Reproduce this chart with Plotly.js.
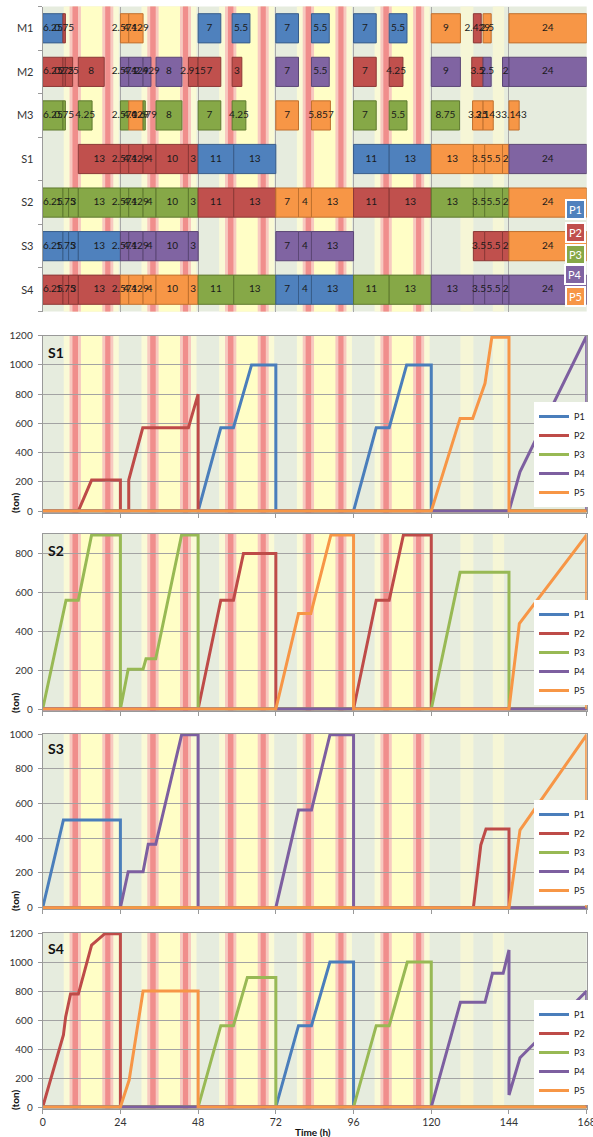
<!DOCTYPE html>
<html><head><meta charset="utf-8">
<script src="https://cdn.plot.ly/plotly-3.0.1.min.js"></script>
<style>html,body{margin:0;padding:0;background:#fff}#chart{width:593px;height:1137px}</style>
</head><body><div id="chart"></div>
<script>
// ---------------- DATA ----------------
const products = ['P1','P2','P3','P4','P5'];
const ganttRows = ['M1','M2','M3','S1','S2','S3','S4'];
const timeTicks = [0,24,48,72,96,120,144,168];

// Gantt bars: start (h), duration (h), product index (0=P1 ... 4=P5)
const gM1_start = [0,6.25,24,26.571,48,58.5,72,83,96,107,120,133,136,144];
const gM1_dur   = [6.25,0.75,2.571,4.429,7,5.5,7,5.5,7,5.5,9,2.429,2.5,24];
const gM1_prod  = [0,1,4,4,0,0,0,0,0,0,4,1,4,4];

const gM2_start = [0,6.25,7,11,24,26.571,31,35,45,48,58.5,72,83,96,107,120,132.5,136,142,144];
const gM2_dur   = [6.25,0.75,2.25,8,2.571,4.429,2.429,8,2.915,7,3,7,5.5,7,4.25,9,3.5,2.5,2,24];
const gM2_prod  = [1,1,1,1,3,3,3,3,1,1,1,3,3,1,1,3,1,3,3,3];

const gM3_start = [0,6.25,11,24,26.571,31,35,48,58.5,72,83,96,107,120,132.75,136,144];
const gM3_dur   = [6.25,0.75,4.25,2.571,4.429,0.679,8,7,4.25,7,5.857,7,5.5,8.75,3.25,3.143,3.143];
const gM3_prod  = [2,2,2,2,4,2,2,2,2,4,4,2,2,2,4,4,4];

const gS1_start = [11,24,26.571,31,35,45,48,59,96,107,120,133,136.5,142,144];
const gS1_dur   = [13,2.571,4.429,4,10,3,11,13,11,13,13,3.5,5.5,2,24];
const gS1_prod  = [1,1,1,1,1,1,0,0,0,0,4,4,4,4,3];

const gS2_start = [0,6.25,8,11,24,26.571,31,35,45,48,59,72,79,83,96,107,120,133,136.5,142,144];
const gS2_dur   = [6.25,1.75,3,13,2.571,4.429,4,10,3,11,13,7,4,13,11,13,13,3.5,5.5,2,24];
const gS2_prod  = [2,2,2,2,2,2,2,2,2,1,1,4,4,4,1,1,2,2,2,2,4];

const gS3_start = [0,6.25,8,11,24,26.571,31,35,45,72,79,83,133,136.5,142,144];
const gS3_dur   = [6.25,1.75,3,13,2.571,4.429,4,10,3,7,4,13,3.5,5.5,2,24];
const gS3_prod  = [0,0,0,0,3,3,3,3,3,3,3,3,1,1,1,4];

const gS4_start = [0,6.25,8,11,24,26.571,31,35,45,48,59,72,79,83,96,107,120,133,136.5,142,144];
const gS4_dur   = [6.25,1.75,3,13,2.571,4.429,4,10,3,11,13,7,4,13,11,13,13,3.5,5.5,2,24];
const gS4_prod  = [1,1,1,1,4,4,4,4,4,2,2,0,0,0,2,2,3,3,3,3,3];

// Inventory lines (time h, tons)
const S1_P1_t = [0,48,55,58.9,64.5,72,72,96,103,107,112.4,120,120,168];
const S1_P1_v = [0,0,570,570,1000,1000,0,0,570,570,1000,1000,0,0];
const S1_P2_t = [0,11,15.1,24,24,26.571,26.571,30.9,45,48,48,168];
const S1_P2_v = [0,0,212,212,0,0,212,570,570,800,0,0];
const S1_P3_t = [0,168];
const S1_P3_v = [0,0];
const S1_P4_t = [0,144,147.4,168,168];
const S1_P4_v = [0,0,269,1200,0];
const S1_P5_t = [0,120,128.9,132.8,136.6,138.7,144,144,168];
const S1_P5_v = [0,0,634,634,874,1190,1190,0,0];

const S2_P1_t = [0,168];
const S2_P1_v = [0,0];
const S2_P2_t = [0,48,55,58.9,62,72,72,96,103,107,111.4,120,120,168];
const S2_P2_v = [0,0,560,560,800,800,0,0,560,560,895,895,0,0];
const S2_P3_t = [0,7.2,11,15.1,24,24,26.4,31,31.9,34.9,42.9,48,48,120,128.9,144,144,168];
const S2_P3_v = [0,560,560,895,895,0,205,205,258,258,895,895,0,0,703,703,0,0];
const S2_P4_t = [0,168];
const S2_P4_v = [0,0];
const S2_P5_t = [0,72,79,82.8,89,96,96,144,147.2,168,168];
const S2_P5_v = [0,0,491,491,895,895,0,0,439,895,0];

const S3_P1_t = [0,6.4,24,24,168];
const S3_P1_v = [0,505,505,0,0];
const S3_P2_t = [0,133,135.3,136.9,144,144,168];
const S3_P2_v = [0,0,361,453,453,0,0];
const S3_P3_t = [0,168];
const S3_P3_v = [0,0];
const S3_P4_t = [0,24,26.4,31,32.6,34.9,42.9,48,48,72,79,83,88.7,96,96,168];
const S3_P4_v = [0,0,207,207,365,365,995,995,0,0,562,562,995,995,0,0];
const S3_P5_t = [0,144,147.4,168,168];
const S3_P5_v = [0,0,447,995,0];

const S4_P1_t = [0,72,79,83,88.7,96,96,168];
const S4_P1_v = [0,0,561,561,1000,1000,0,0];
const S4_P2_t = [0,6.4,7.1,8.6,11,15.1,19.2,24,24,168];
const S4_P2_v = [0,497,623,779,779,1117,1195,1195,0,0];
const S4_P3_t = [0,48,55,58.9,63.2,72,72,96,103,107,112.6,120,120,168];
const S4_P3_v = [0,0,561,561,894,894,0,0,561,561,1000,1000,0,0];
const S4_P4_t = [0,120,129,136.6,138.9,142.2,144,144,147.4,168,168];
const S4_P4_v = [0,0,722,722,922,922,1083,83,340,800,0];
const S4_P5_t = [0,24,26.7,31,48,48,168];
const S4_P5_v = [0,0,186,800,800,0,0];

// ---------------- STYLE ----------------
const FONT = 'Lato, "Liberation Sans", Arial, sans-serif';
const barFill = ['#4f81bd','#c0504d','#86a847','#8064a2','#f79646'];
const barEdge = ['#385d8a','#8c3836','#5f7a2f','#5c4776','#c0712f'];
const lineCol = ['#4a7ebb','#be4b48','#98b954','#7d5fa0','#f79646'];
const W = 593, H = 1137;
const px = v => v / W, py = v => 1 - v / H;
const XDOM = [42.7/W, 586.7/W];

// ---------------- GANTT ----------------
const gData = [
  [gM1_start,gM1_dur,gM1_prod],[gM2_start,gM2_dur,gM2_prod],[gM3_start,gM3_dur,gM3_prod],
  [gS1_start,gS1_dur,gS1_prod],[gS2_start,gS2_dur,gS2_prod],[gS3_start,gS3_dur,gS3_prod],
  [gS4_start,gS4_dur,gS4_prod]
];
const bx=[], bb=[], by=[], bc=[], bl=[], tx=[], ty=[], tt=[];
gData.forEach((r,i)=>{
  r[0].forEach((s,j)=>{
    const d=r[1][j], p=r[2][j];
    bx.push(d); bb.push(s); by.push(i); bc.push(barFill[p]); bl.push(barEdge[p]);
    tx.push(s+d/2); ty.push(i); tt.push(String(d));
  });
});
const traces = [];
traces.push({type:'bar', orientation:'h', x:bx, base:bb, y:by, width:0.67,
  marker:{color:bc, line:{color:bl, width:1}}, xaxis:'x', yaxis:'y', showlegend:false, hoverinfo:'skip'});
traces.push({type:'scatter', mode:'text', x:tx, y:ty, text:tt, textposition:'middle center',
  textfont:{family:FONT, size:10, color:'#1a1a1a'}, cliponaxis:false, xaxis:'x', yaxis:'y', showlegend:false, hoverinfo:'skip'});

// ---------------- LINES ----------------
const lineSets = [
  [[S1_P1_t,S1_P1_v],[S1_P2_t,S1_P2_v],[S1_P3_t,S1_P3_v],[S1_P4_t,S1_P4_v],[S1_P5_t,S1_P5_v]],
  [[S2_P1_t,S2_P1_v],[S2_P2_t,S2_P2_v],[S2_P3_t,S2_P3_v],[S2_P4_t,S2_P4_v],[S2_P5_t,S2_P5_v]],
  [[S3_P1_t,S3_P1_v],[S3_P2_t,S3_P2_v],[S3_P3_t,S3_P3_v],[S3_P4_t,S3_P4_v],[S3_P5_t,S3_P5_v]],
  [[S4_P1_t,S4_P1_v],[S4_P2_t,S4_P2_v],[S4_P3_t,S4_P3_v],[S4_P4_t,S4_P4_v],[S4_P5_t,S4_P5_v]]
];
const legNames = ['legend','legend2','legend3','legend4'];
lineSets.forEach((set,k)=>{
  set.forEach((pr,p)=>{
    traces.push({type:'scatter', mode:'lines', x:pr[0], y:pr[1], name:products[p],
      line:{color:lineCol[p], width:3}, xaxis:'x'+(k+2), yaxis:'y'+(k+2),
      legend:legNames[k], hoverinfo:'skip'});
  });
});

// ---------------- BACKGROUND BANDS ----------------
const bandDays = [0,24,48,72,96];
const shapes = [];
function rect(xr, yr, a, b, c){ shapes.push({type:'rect', xref:xr, yref:yr+' domain', x0:a, x1:b, y0:0, y1:1, fillcolor:c, line:{width:0}, layer:'below'}); }
['','2','3','4','5'].forEach(n=>{
  const xr='x'+n, yr='y'+n;
  bandDays.forEach(d=>{
    rect(xr,yr,d+6.5,d+23.5,'#fafad6');
    rect(xr,yr,d+11.5,d+18.8,'#fffec6');
    [[9.2,10.9],[19.3,20.9]].forEach(([a,b])=>{
      rect(xr,yr,d+a-0.9,d+b+0.9,'#f7c9c0');
      rect(xr,yr,d+a,d+b,'#f08e8c');
    });
  });
  rect(xr,yr,129,133,'#f6f6d6');
  rect(xr,yr,139,142.5,'#f6f6d6');
});

// ---------------- AXES ----------------
const layout = {
  width:W, height:H, margin:{l:0,r:0,t:0,b:0}, paper_bgcolor:'#fff', plot_bgcolor:'#e6ecde',
  font:{family:FONT, size:10, color:'#333'}, shapes:shapes, barmode:'overlay',
  xaxis:{domain:XDOM, range:[0,168], tickvals:timeTicks, showticklabels:false, ticks:'', showgrid:true,
    gridcolor:'#a8a8a8', gridwidth:1, zeroline:false, showline:false, anchor:'y', fixedrange:true},
  yaxis:{domain:[py(311.5), py(6.5)], range:[6.5,-0.5], tickvals:[0,1,2,3,4,5,6], ticktext:ganttRows,
    ticks:'', showgrid:false, zeroline:false, showline:true, linecolor:'#9a9a9a', ticklabelstandoff:6,
    tickfont:{size:11, color:'#333'}, anchor:'x', fixedrange:true,
    minor:{tickvals:[-0.5,0.5,1.5,2.5,3.5,4.5,5.5,6.5], ticks:'outside', ticklen:4, tickcolor:'#9a9a9a'}}
};
const ySpecs = [
  {dom:[py(512.5), py(335.7)], range:[-10,1200], vals:[0,200,400,600,800,1000,1200]},
  {dom:[py(710.6), py(534)],   range:[-8,900],   vals:[0,200,400,600,800]},
  {dom:[py(909.1), py(734)],   range:[-8,1000],  vals:[0,200,400,600,800,1000]},
  {dom:[py(1108.5), py(933)],  range:[-10,1200], vals:[0,200,400,600,800,1000,1200]}
];
ySpecs.forEach((s,k)=>{
  const n=k+2;
  layout['xaxis'+n] = {domain:XDOM, range:[0,168], tickvals:timeTicks, ticks:'outside', ticklen:4, tickcolor:'#999',
    showticklabels:(k===3), ticklabeloverflow:'allow', showgrid:false, zeroline:false, showline:true, mirror:true, linecolor:'#999',
    anchor:'y'+n, tickfont:{size:10.5, color:'#333'}, fixedrange:true};
  layout['yaxis'+n] = {domain:s.dom, range:s.range, tickvals:s.vals, ticks:'outside', ticklen:4, tickcolor:'#999',
    showgrid:true, gridcolor:'#a3a3a3', gridwidth:1, zeroline:false, showline:true, mirror:true, linecolor:'#999',
    anchor:'x'+n, tickfont:{size:10, color:'#333'}, ticklabelstandoff:3, fixedrange:true};
});
const legBottoms = [507, 705, 905, 1105];
legNames.forEach((ln,k)=>{
  layout[ln] = {x:px(590), xanchor:'right', y:py(legBottoms[k]), yanchor:'bottom', bgcolor:'#ffffff',
    borderwidth:0, font:{size:9, color:'#222'}, itemwidth:30, traceorder:'normal'};
});

// ---------------- ANNOTATIONS ----------------
const ann = [];
const chartTitles = ['S1','S2','S3','S4'];
const titleTops = [342, 540, 738, 938];
const tonCenters = [503, 703, 901, 1100];
chartTitles.forEach((t,k)=>{
  ann.push({xref:'paper', yref:'paper', x:px(46), y:py(titleTops[k]), xanchor:'left', yanchor:'top',
    text:'<b>'+t+'</b>', showarrow:false, font:{size:14, color:'#111'}});
  ann.push({xref:'paper', yref:'paper', x:px(15), y:py(tonCenters[k]), xanchor:'center', yanchor:'middle',
    text:'<b>(ton)</b>', textangle:-90, showarrow:false, font:{size:10, color:'#111'}});
});
ann.push({xref:'paper', yref:'paper', x:px(313), y:py(1132), xanchor:'center', yanchor:'middle',
  text:'<b>Time (h)</b>', showarrow:false, font:{size:10, color:'#111'}});
const keyY = [210, 232, 254, 275, 296];
products.forEach((p,i)=>{
  ann.push({xref:'paper', yref:'paper', x:px(575), y:py(keyY[i]), xanchor:'center', yanchor:'middle',
    text:p, showarrow:false, font:{size:11, color:'#fff'}, bgcolor:barFill[i], bordercolor:'#ffffff',
    borderwidth:2, borderpad:2});
});
layout.annotations = ann;

Plotly.newPlot('chart', traces, layout, {staticPlot:true});
</script></body></html>
